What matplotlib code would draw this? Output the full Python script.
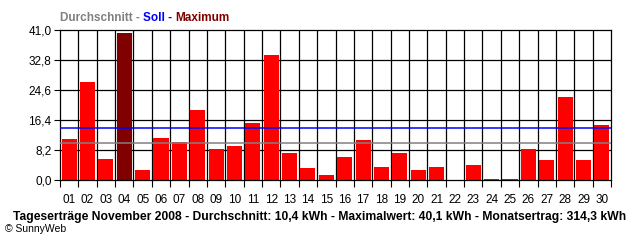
import matplotlib
matplotlib.use("Agg")
import matplotlib.pyplot as plt
import numpy as np

days = ["%02d" % d for d in range(1, 31)]
values = [11.3, 26.9, 5.8, 40.1, 2.8, 11.6, 10.5, 19.2, 8.6, 9.4,
          15.7, 34.3, 7.5, 3.4, 1.5, 6.4, 10.8, 3.6, 7.5, 2.8,
          3.6, 0.0, 4.2, 0.4, 0.3, 8.6, 5.6, 22.8, 5.6, 14.9]
average = 10.1
target = 14.2
yticks = [0.0, 8.2, 16.4, 24.6, 32.8, 41.0]
ytick_labels = ["0,0", "8,2", "16,4", "24,6", "32,8", "41,0"]
legend_parts = ["Durchschnitt - ", "Soll - ", "Maximum"]
legend_colors = ['#808080', '#0000FF', '#800000']
footer = "Tageserträge November 2008 - Durchschnitt: 10,4 kWh - Maximalwert: 40,1 kWh - Monatsertrag: 314,3 kWh"

plt.rcParams['font.family'] = ['Liberation Sans', 'DejaVu Sans']

fig = plt.figure(figsize=(6.4, 2.4), dpi=100)
ax = fig.add_axes([60/640, 60/240, 551/640, 150/240])

x = np.arange(len(values))
imax = int(np.argmax(values))
colors = ['#800000' if i == imax else '#FF0000' for i in range(len(values))]
ax.bar(x, values, width=0.82, color=colors, zorder=3)

ax.axhline(average, color='#808080', lw=1.1, zorder=10)
ax.axhline(target, color='#0000FF', lw=1.1, zorder=10)

ax.set_xlim(-0.5, len(values) - 0.5)
ax.set_ylim(0, 41.0)
ax.set_yticks(yticks)
ax.set_yticklabels(ytick_labels, fontsize=8.5)
ax.set_xticks(x)
ax.set_xticklabels(days, fontsize=8.5)
ax.tick_params(axis='x', length=0, pad=10)
ax.set_xticks(np.arange(-0.5, len(values) + 0.5, 1), minor=True)
ax.tick_params(axis='x', which='minor', length=5, width=0.8, direction='out')
ax.tick_params(axis='y', length=4, width=0.8, direction='out', pad=2)
for yv in yticks[1:-1]:
    ax.axhline(yv, color='black', lw=0.9, zorder=1)
for xv in np.arange(0.5, len(values) - 0.5, 1):
    ax.axvline(xv, color='black', lw=0.9, zorder=1)
for s in ax.spines.values():
    s.set_linewidth(0.9)
    s.set_zorder(5)

# top legend title, pieces placed side by side
fig.canvas.draw()
renderer = fig.canvas.get_renderer()
xpos = 60 / 640
for part, col in zip(legend_parts, legend_colors):
    t = fig.text(xpos, 1 - 21/240, part, color=col, fontsize=8.5,
                 fontweight='bold', va='baseline', ha='left')
    bb = t.get_window_extent(renderer=renderer)
    xpos += bb.width / fig.bbox.width

fig.text(0.5, 1 - 217/240, footer, fontsize=8.75, fontweight='bold', ha='center', va='center')
fig.text(5/640, 1 - 229/240, "© SunnyWeb", fontsize=7.5, ha='left', va='center')

fig.savefig("out.png", dpi=100)
